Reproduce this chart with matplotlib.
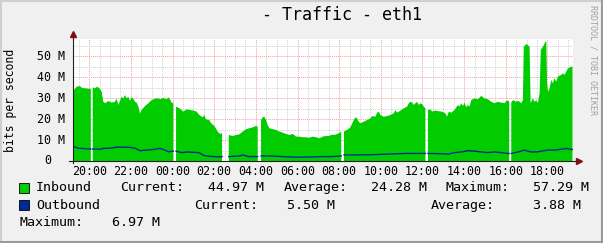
import numpy as np
import matplotlib.pyplot as plt
from matplotlib.patches import Rectangle
from matplotlib.lines import Line2D

# --- размеры картинки (пиксели) ---
W, H = 603, 243

# --- данные: время в часах от полуночи первого дня, значения в Мбит/с ---
IN_HOURS = [19.20, 19.27, 19.40, 19.56, 19.64, 19.80, 20.04, 20.08, 20.12, 20.17,
            20.28, 20.39, 20.52, 20.60, 20.68, 20.76, 20.92, 21.08, 21.24, 21.32,
            21.40, 21.56, 21.64, 21.72, 21.80, 21.88, 21.96, 22.04, 22.12, 22.20,
            22.28, 22.36, 22.44, 22.52, 22.68, 22.84, 23.00, 23.16, 23.32, 23.40,
            23.56, 23.72, 23.80, 23.88, 23.96, 24.04, 24.10, 24.17, 24.36, 24.52,
            24.68, 24.84, 25.00, 25.16, 25.29, 25.45, 25.53, 25.61, 25.77, 25.85,
            26.01, 26.17, 26.28, 26.38, 26.50, 26.70, 26.89, 27.05, 27.21, 27.37,
            27.53, 27.69, 27.85, 28.01, 28.09, 28.15, 28.25, 28.33, 28.41, 28.49,
            28.57, 28.65, 28.81, 28.97, 29.13, 29.29, 29.45, 29.61, 29.77, 29.93,
            30.09, 30.25, 30.41, 30.57, 30.73, 30.89, 31.05, 31.21, 31.34, 31.50,
            31.66, 31.82, 31.98, 32.10, 32.16, 32.23, 32.38, 32.54, 32.70, 32.78,
            32.86, 32.94, 33.02, 33.18, 33.34, 33.50, 33.58, 33.74, 33.82, 33.90,
            33.98, 34.14, 34.30, 34.46, 34.62, 34.70, 34.78, 34.94, 35.10, 35.26,
            35.34, 35.42, 35.50, 35.58, 35.66, 35.74, 35.82, 35.90, 35.98, 36.06,
            36.14, 36.20, 36.26, 36.38, 36.46, 36.62, 36.78, 36.94, 37.10, 37.18,
            37.26, 37.38, 37.54, 37.70, 37.78, 37.86, 37.94, 38.02, 38.10, 38.18,
            38.26, 38.34, 38.50, 38.66, 38.82, 38.98, 39.14, 39.30, 39.46, 39.62,
            39.78, 39.94, 40.02, 40.10, 40.16, 40.20, 40.26, 40.34, 40.50, 40.58,
            40.66, 40.74, 40.82, 40.86, 40.98, 41.06, 41.14, 41.19, 41.30, 41.38,
            41.46, 41.54, 41.62, 41.68, 41.78, 41.86, 41.94, 41.98, 42.02, 42.10,
            42.18, 42.26, 42.34, 42.42, 42.50, 42.66, 42.74, 42.82, 42.90, 42.98,
            43.14, 43.20]
nan = float('nan')
IN_MBPS = [31.4, 33.8, 35.4, 35.7, 34.9, 34.6, 34.4, 34.4, nan, 35.1,
           34.6, 35.4, 34.3, 33.0, 28.2, 27.5, 28.6, 27.8, 28.2, 29.7,
           26.7, 30.6, 29.8, 31.4, 29.8, 30.6, 28.7, 30.3, 29.7, 28.2,
           27.8, 25.9, 22.7, 24.3, 26.2, 27.5, 29.0, 29.7, 29.8, 29.4,
           30.0, 29.4, 30.3, 29.4, 27.8, 27.5, nan, 25.9, 25.0, 23.5,
           24.6, 24.3, 24.0, 23.5, 21.9, 20.8, 21.9, 19.8, 19.5, 18.0,
           16.7, 14.0, 12.9, 13.2, nan, 12.4, 11.9, 12.4, 12.7, 14.0,
           15.1, 15.6, 16.0, 16.7, 16.3, nan, 19.5, 20.8, 21.1, 19.5,
           17.1, 15.6, 15.2, 14.8, 14.0, 13.5, 12.9, 12.4, 12.9, 11.6,
           11.6, 11.3, 11.3, 11.1, 11.6, 11.3, 10.8, 11.6, 11.9, 11.9,
           12.5, 12.5, 13.2, 14.0, nan, 14.0, 14.8, 16.0, 19.5, 20.8,
           20.3, 18.7, 18.0, 18.7, 19.5, 20.3, 21.4, 21.1, 23.0, 23.5,
           21.9, 21.1, 21.4, 21.9, 22.7, 24.3, 23.0, 24.0, 25.1, 25.9,
           27.5, 28.2, 27.8, 26.7, 27.5, 28.2, 26.7, 27.5, 27.1, 25.9,
           25.1, nan, 24.3, 24.6, 23.5, 24.0, 23.7, 23.5, 22.7, 21.1,
           23.5, 23.0, 24.3, 26.7, 25.9, 27.5, 26.2, 27.8, 25.6, 26.7,
           25.9, 29.0, 29.8, 29.4, 31.0, 29.8, 29.4, 28.2, 27.5, 28.2,
           27.8, 27.5, 28.6, 28.7, 28.5, nan, 27.8, 29.0, 28.2, 28.7,
           28.2, 27.5, 29.0, 54.4, 55.7, 55.2, 54.4, 27.5, 29.8, 28.2,
           29.0, 27.5, 32.2, 52.9, 54.4, 56.0, 57.29, 37.0, 33.0, 34.6,
           38.6, 37.0, 39.4, 37.8, 40.2, 41.0, 41.8, 41.0, 42.5, 44.1,
           44.9, 44.97]

OUT_HOURS = [19.20, 19.26, 19.32, 19.48, 20.04, 20.08, 20.12, 20.17, 20.52, 20.68,
             21.00, 21.32, 21.64, 21.96, 22.20, 22.44, 22.76, 23.08, 23.40, 23.64,
             23.80, 24.04, 24.10, 24.17, 24.44, 24.68, 25.00, 25.13, 25.29, 25.45,
             25.61, 25.93, 26.25, 26.38, 26.50, 26.70, 27.21, 27.37, 27.53, 27.69,
             28.09, 28.15, 28.25, 28.65, 29.29, 29.93, 30.57, 31.21, 31.66, 32.10,
             32.16, 32.23, 32.78, 33.58, 34.38, 35.18, 35.98, 36.14, 36.20, 36.26,
             36.78, 37.26, 37.54, 37.86, 38.18, 38.50, 38.82, 39.14, 39.46, 39.78,
             40.10, 40.16, 40.20, 40.26, 40.58, 40.90, 41.06, 41.22, 41.54, 41.70,
             42.02, 42.34, 42.66, 42.90, 43.06, 43.20]
OUT_MBPS = [6.6, 6.97, 6.6, 6.1, 5.7, 5.7, nan, 5.7, 5.6, 6.0,
            6.1, 6.6, 6.6, 6.5, 6.1, 4.9, 5.2, 5.5, 6.0, 5.2,
            4.4, 4.7, nan, 4.7, 4.0, 4.3, 4.1, 4.1, 3.9, 2.9,
            2.4, 2.1, 2.0, 2.1, nan, 2.1, 2.4, 2.9, 2.4, 2.1,
            2.1, nan, 2.4, 2.4, 2.1, 1.8, 1.9, 2.1, 2.1, 2.4,
            nan, 2.9, 2.9, 3.0, 3.3, 3.6, 3.6, 3.6, nan, 3.6,
            3.5, 3.3, 4.0, 4.3, 4.9, 4.7, 4.3, 4.0, 4.3, 4.0,
            3.6, 3.6, nan, 3.6, 4.3, 5.2, 4.7, 4.3, 4.4, 4.7,
            5.2, 5.2, 5.6, 6.0, 5.6, 5.5]

T_START, T_END = 19.2, 43.2
Y_TOP = 58.1
X_TICKS = [20, 22, 24, 26, 28, 30, 32, 34, 36, 38, 40, 42]
X_LABELS = ['20:00', '22:00', '00:00', '02:00', '04:00', '06:00',
            '08:00', '10:00', '12:00', '14:00', '16:00', '18:00']
Y_TICKS = [0, 10, 20, 30, 40, 50]
Y_LABELS = ['0', '10 M', '20 M', '30 M', '40 M', '50 M']

IN_STATS = ['44.97 M', '24.28 M', '57.29 M']
OUT_STATS = ['5.50 M', '3.88 M', '6.97 M']

GREEN = '#00CC00'
BLUE = '#002A97'
BACK = '#F0F0F0'
ARROW = '#7F1010'
FONT = 'DejaVu Sans Mono'
# -----------------

plt.rcParams['font.family'] = FONT


def fx(px):
    return px / W


def fy(py):
    return 1 - py / H


def main():
    fig = plt.figure(figsize=(W / 100, H / 100), dpi=100, facecolor=BACK)

    # рамка с тенью как у rrdtool
    fig.add_artist(Line2D([0, 1], [fy(1), fy(1)], color='#CFCFCF', lw=1.5))
    fig.add_artist(Line2D([fx(1), fx(1)], [0, 1], color='#CFCFCF', lw=1.5))
    fig.add_artist(Line2D([0, 1], [fy(242), fy(242)], color='#9A9A9A', lw=1.5))
    fig.add_artist(Line2D([fx(602), fx(602)], [0, 1], color='#9A9A9A', lw=1.5))

    left, right, bottom, top = 72.5, 572.5, 161, 39
    ax = fig.add_axes([fx(left), fy(bottom), fx(right - left), (bottom - top) / H])
    ax.set_facecolor('white')

    hin = np.array(IN_HOURS)
    vin = np.array(IN_MBPS)
    ax.fill_between(hin, 0, vin, color=GREEN, lw=0, zorder=3)
    ax.plot(OUT_HOURS, OUT_MBPS, color=BLUE, lw=1.0, zorder=4)

    ax.set_xlim(T_START, T_END)
    ax.set_ylim(0, Y_TOP)

    # сетка
    ax.set_xticks(X_TICKS)
    ax.set_xticks(np.arange(19.5, T_END, 0.5), minor=True)
    ax.set_yticks(Y_TICKS)
    ax.set_yticks(np.arange(5, Y_TOP, 5), minor=True)
    ax.grid(which='minor', color='#D2D2D2', ls=(0, (1, 1)), lw=0.7, zorder=1)
    ax.grid(which='major', color='#F2A0A0', ls=(0, (1, 1)), lw=0.7, zorder=2)
    ax.tick_params(which='both', labelbottom=False, labelleft=False,
                   length=0)
    for s in ax.spines.values():
        s.set_visible(False)

    # оси со стрелками
    ax.plot([-0.008, 1.012], [0, 0], transform=ax.transAxes, color='#202020',
            lw=0.8, clip_on=False, zorder=5)
    ax.plot([0, 0], [-0.02, 1.04], transform=ax.transAxes, color='#202020',
            lw=0.8, clip_on=False, zorder=5)
    ax.plot([1.013], [0], marker='>', ms=4, color=ARROW, transform=ax.transAxes,
            clip_on=False, zorder=6)
    ax.plot([0], [1.045], marker='^', ms=4, color=ARROW, transform=ax.transAxes,
            clip_on=False, zorder=6)

    # подписи осей
    xt = ax.get_xaxis_transform()
    for h, lab in zip(X_TICKS, X_LABELS):
        ax.text(h, -(171.5 - bottom) / (bottom - top), lab, transform=xt,
                ha='center', va='center', fontsize=8.4)
    yt = ax.get_yaxis_transform()
    for v, lab in zip(Y_TICKS, Y_LABELS):
        xr = 65 if lab != '0' else 51
        ax.text((xr - left) / (right - left), v, lab, transform=yt,
                ha='right', va='center', fontsize=8.4)

    fig.text(fx(11), fy(100), 'bits per second', rotation=90,
             ha='center', va='center', fontsize=8.3)
    fig.text(fx(341.5), fy(15), '- Traffic - eth1', ha='center',
             va='center', fontsize=12)
    fig.text(fx(593), fy(60), 'RRDTOOL / TOBI OETIKER', rotation=270,
             ha='center', va='center', fontsize=6, color='#A0A0A0')

    # легенда
    fs = 9.6
    rows = [187.5, 205, 222]
    for color, r in ((GREEN, rows[0]), (BLUE, rows[1])):
        fig.add_artist(Rectangle((fx(19), fy(r + 5)), 10 / W, 10 / H,
                                 facecolor=color, edgecolor='black', lw=0.6))
    fig.text(fx(36), fy(rows[0]), 'Inbound', va='center', fontsize=fs)
    fig.text(fx(120), fy(rows[0]), 'Current:', va='center', fontsize=fs)
    fig.text(fx(263.5), fy(rows[0]), IN_STATS[0], ha='right', va='center', fontsize=fs)
    fig.text(fx(283.5), fy(rows[0]), 'Average:', va='center', fontsize=fs)
    fig.text(fx(427), fy(rows[0]), IN_STATS[1], ha='right', va='center', fontsize=fs)
    fig.text(fx(446), fy(rows[0]), 'Maximum:', va='center', fontsize=fs)
    fig.text(fx(589), fy(rows[0]), IN_STATS[2], ha='right', va='center', fontsize=fs)

    fig.text(fx(36), fy(rows[1]), 'Outbound', va='center', fontsize=fs)
    fig.text(fx(194), fy(rows[1]), 'Current:', va='center', fontsize=fs)
    fig.text(fx(335), fy(rows[1]), OUT_STATS[0], ha='right', va='center', fontsize=fs)
    fig.text(fx(430.5), fy(rows[1]), 'Average:', va='center', fontsize=fs)
    fig.text(fx(581), fy(rows[1]), OUT_STATS[1], ha='right', va='center', fontsize=fs)

    fig.text(fx(19.5), fy(rows[2]), 'Maximum:', va='center', fontsize=fs)
    fig.text(fx(160), fy(rows[2]), OUT_STATS[2], ha='right', va='center', fontsize=fs)

    fig.savefig('out.png', dpi=100, facecolor=BACK)
    plt.close(fig)


if __name__ == "__main__":
    main()
